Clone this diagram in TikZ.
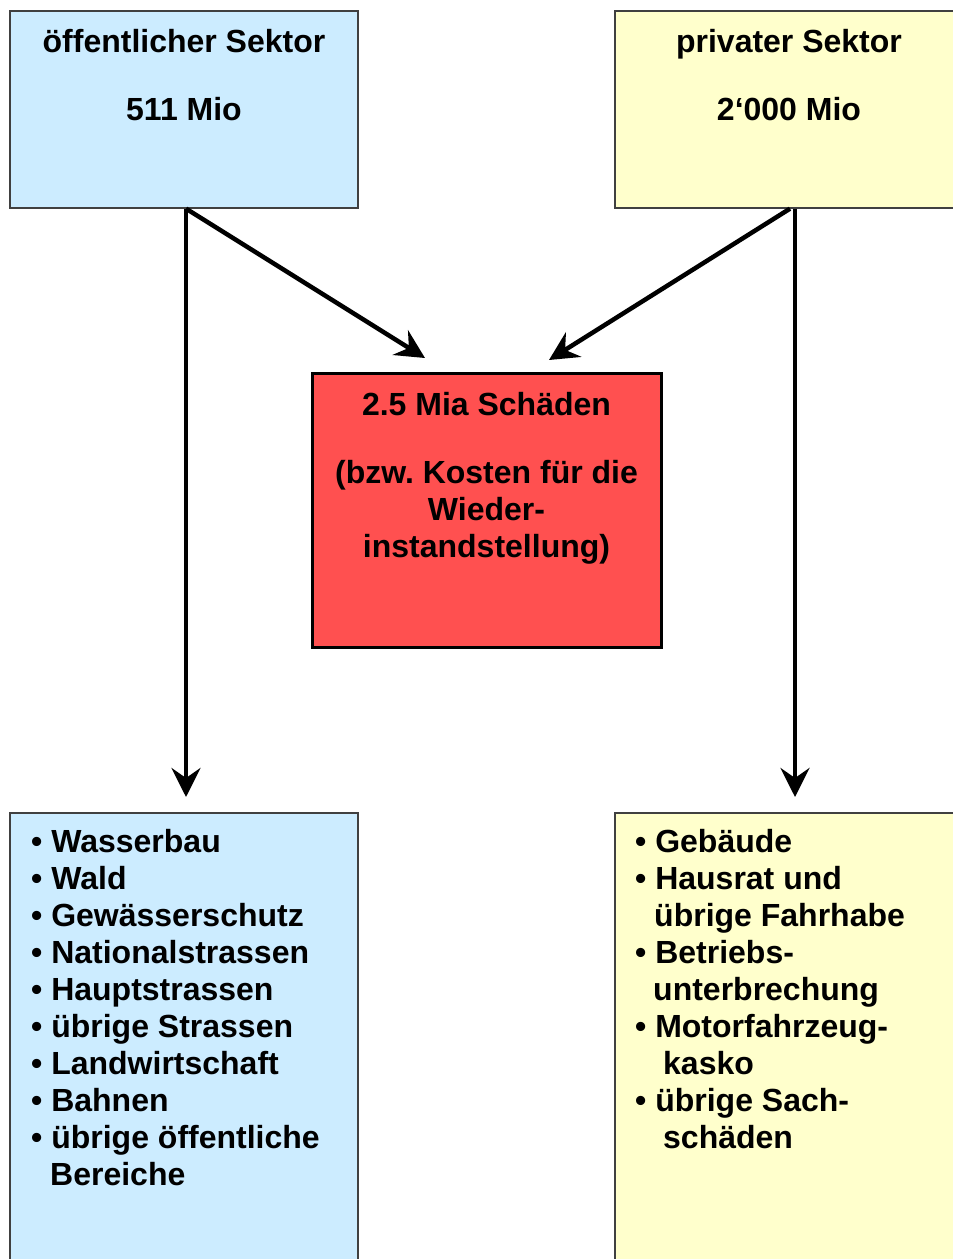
\documentclass[tikz,border=0pt]{standalone}
\usepackage{fontspec}
\setmainfont{Liberation Sans}
\usepackage{xcolor}
\usetikzlibrary{arrows.meta}
\frenchspacing

\definecolor{oeffblau}{HTML}{CCECFF}
\definecolor{privgelb}{HTML}{FFFFCC}
\definecolor{schadenrot}{HTML}{FF5050}

\tikzset{
	kasten/.style={rectangle, draw=black!75, line width=1.3pt, inner sep=0pt},
	beschrift/.style={inner sep=0pt, font=\fontsize{32}{37}\selectfont\bfseries},
	pfeil/.style={line width=4.5pt, -{Stealth[length=29pt, width=29pt, inset=10pt]}}
}

\begin{document}
\begin{tikzpicture}[x=1pt, y=-1pt]
	\useasboundingbox (0,0) rectangle (953,1259);
	\clip (0,0) rectangle (953,1259);
	\fill[white] (0,0) rectangle (953,1259);
	% Kaesten
	\node[kasten, fill=oeffblau, minimum width=348pt, minimum height=197pt] at (184,109.5)(oeff){};
	\node[kasten, fill=privgelb, minimum width=348pt, minimum height=197pt] at (789,109.5)(priv){};
	\node[kasten, fill=schadenrot, draw=black, line width=3pt, minimum width=349pt, minimum height=274pt] at (486.5,510)(schaden){};
	\node[kasten, fill=oeffblau, minimum width=348pt, minimum height=470pt] at (184,1048)(oeffliste){};
	\node[kasten, fill=privgelb, minimum width=348pt, minimum height=470pt] at (789,1048)(privliste){};
	% Texte (base = Grundlinie der letzten Zeile)
	\node[beschrift, anchor=base, align=center] at (184,120)(oefftext){öffentlicher Sektor\\[31pt]511 Mio};
	\node[beschrift, anchor=base, align=center] at (789,120)(privtext){privater Sektor\\[31pt]2‘000 Mio};
	\node[beschrift, anchor=base, align=center] at (486.5,557)(schadentext){2.5 Mia Schäden\\[31pt](bzw. Kosten für die\\Wieder-\\instandstellung)};
	\node[beschrift, anchor=base west, align=left] at (31,1185)(oefflistetext){%
		• Wasserbau\\• Wald\\• Gewässerschutz\\• Nationalstrassen\\• Hauptstrassen\\• übrige Strassen\\%
		• Landwirtschaft\\• Bahnen\\• übrige öffentliche\\\hspace*{19pt}Bereiche};
	\node[beschrift, anchor=base west, align=left] at (635,1148)(privlistetext){%
		• Gebäude\\• Hausrat und\\\hspace*{19pt}übrige Fahrhabe\\• Betriebs-\\\hspace*{18pt}unterbrechung\\%
		• Motorfahrzeug-\\\hspace*{28pt}kasko\\• übrige Sach-\\\hspace*{28pt}schäden};
	% Pfeile
	\coordinate (spitzeL) at (186,797);
	\coordinate (spitzeR) at (795,797);
	\coordinate (spitzeSL) at (425,358);
	\coordinate (spitzeSR) at (549,360);
	\draw[pfeil] ([xshift=2pt]oeff.south) -- (spitzeL);
	\draw[pfeil] ([xshift=2pt]oeff.south) -- (spitzeSL);
	\draw[pfeil] ([xshift=1pt]priv.south) -- (spitzeSR);
	\draw[pfeil] ([xshift=6pt]priv.south) -- (spitzeR);
\end{tikzpicture}
\end{document}
